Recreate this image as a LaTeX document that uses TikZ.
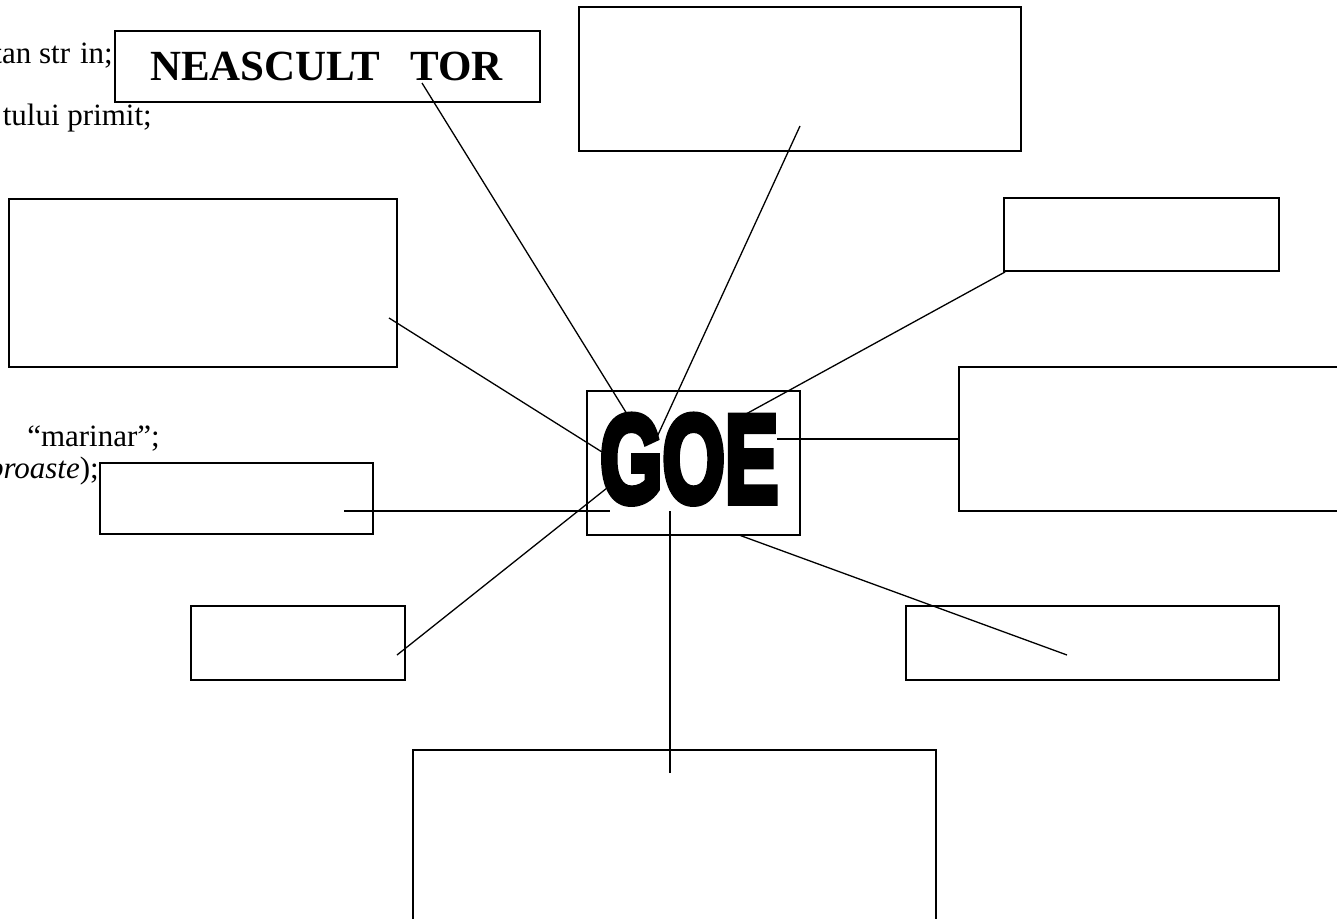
\documentclass[tikz,border=0pt]{standalone}
\usepackage{fontspec}
\setmainfont{Liberation Serif}
\newfontfamily\goefont{Liberation Sans}[BoldFeatures={FakeBold=6}]
\begin{document}
\begin{tikzpicture}[x=1pt,y=-1pt,
  box/.style={draw, line width=1.7pt, inner sep=0pt, outer sep=0pt, anchor=north west},
  link/.style={line width=1.3pt},
  side/.style={inner sep=0pt, anchor=base east, font=\fontsize{31}{34}\selectfont}]
\useasboundingbox (0,0) rectangle (1337,918);
\clip (0,0) rectangle (1337,918);
% side texts
\node[side] (s1) at (113,63) {tan str\hspace{10pt}in;};
\node[side] (s2) at (152,125) {tului primit;};
\node[side] (s3) at (160,446) {“marinar”;};
\node[side] (s4) at (99,478) {\textit{proaste});};
% boxes
\node[box, minimum width=425pt, minimum height=71pt] (neasc) at (115,31) {};
\node[inner sep=0pt, anchor=base west, font=\fontsize{43}{48}\selectfont\bfseries] (neasctxt) at (150,80) {NEASCULT\hspace{30pt}TOR};
\node[box, minimum width=442pt, minimum height=144pt] (topb) at (579,7) {};
\node[box, minimum width=388pt, minimum height=168pt] (leftbig) at (9,199) {};
\node[box, minimum width=275pt, minimum height=73pt] (rsmall) at (1004,198) {};
\node[box, minimum width=420pt, minimum height=144pt] (rbig) at (959,367) {};
\node[box, minimum width=273pt, minimum height=71pt] (lsmall) at (100,463) {};
\node[box, minimum width=213pt, minimum height=144pt] (goebox) at (587,391) {};
\node[inner sep=0pt, anchor=base west] (goe) at (600,502) {\resizebox*{178pt}{88pt}{\goefont\bfseries GOE}};
\node[box, minimum width=214pt, minimum height=74pt] (lbot) at (191,606) {};
\node[box, minimum width=373pt, minimum height=74pt] (rbot) at (906,606) {};
\node[box, minimum width=523pt, minimum height=200pt] (bottom) at (413,750) {};
% connector end points
\coordinate (a1) at (422,83);   \coordinate (g1) at (627,414);
\coordinate (a2) at (800,126);  \coordinate (g2) at (657,437);
\coordinate (a3) at (389,318);  \coordinate (g3) at (602,452);
\coordinate (a4) at (1005,272); \coordinate (g4) at (746,414);
\coordinate (a5) at (959,439);  \coordinate (g5) at (777,439);
\coordinate (a6) at (344,511);  \coordinate (g6) at (610,511);
\coordinate (a7) at (397,655);  \coordinate (g7) at (607,488);
\coordinate (a8) at (1067,655); \coordinate (g8) at (739,535);
\coordinate (a9) at (670,773);  \coordinate (g9) at (670,511);
\foreach \i in {1,...,9} {\draw[link] (a\i) -- (g\i);}
\end{tikzpicture}
\end{document}
